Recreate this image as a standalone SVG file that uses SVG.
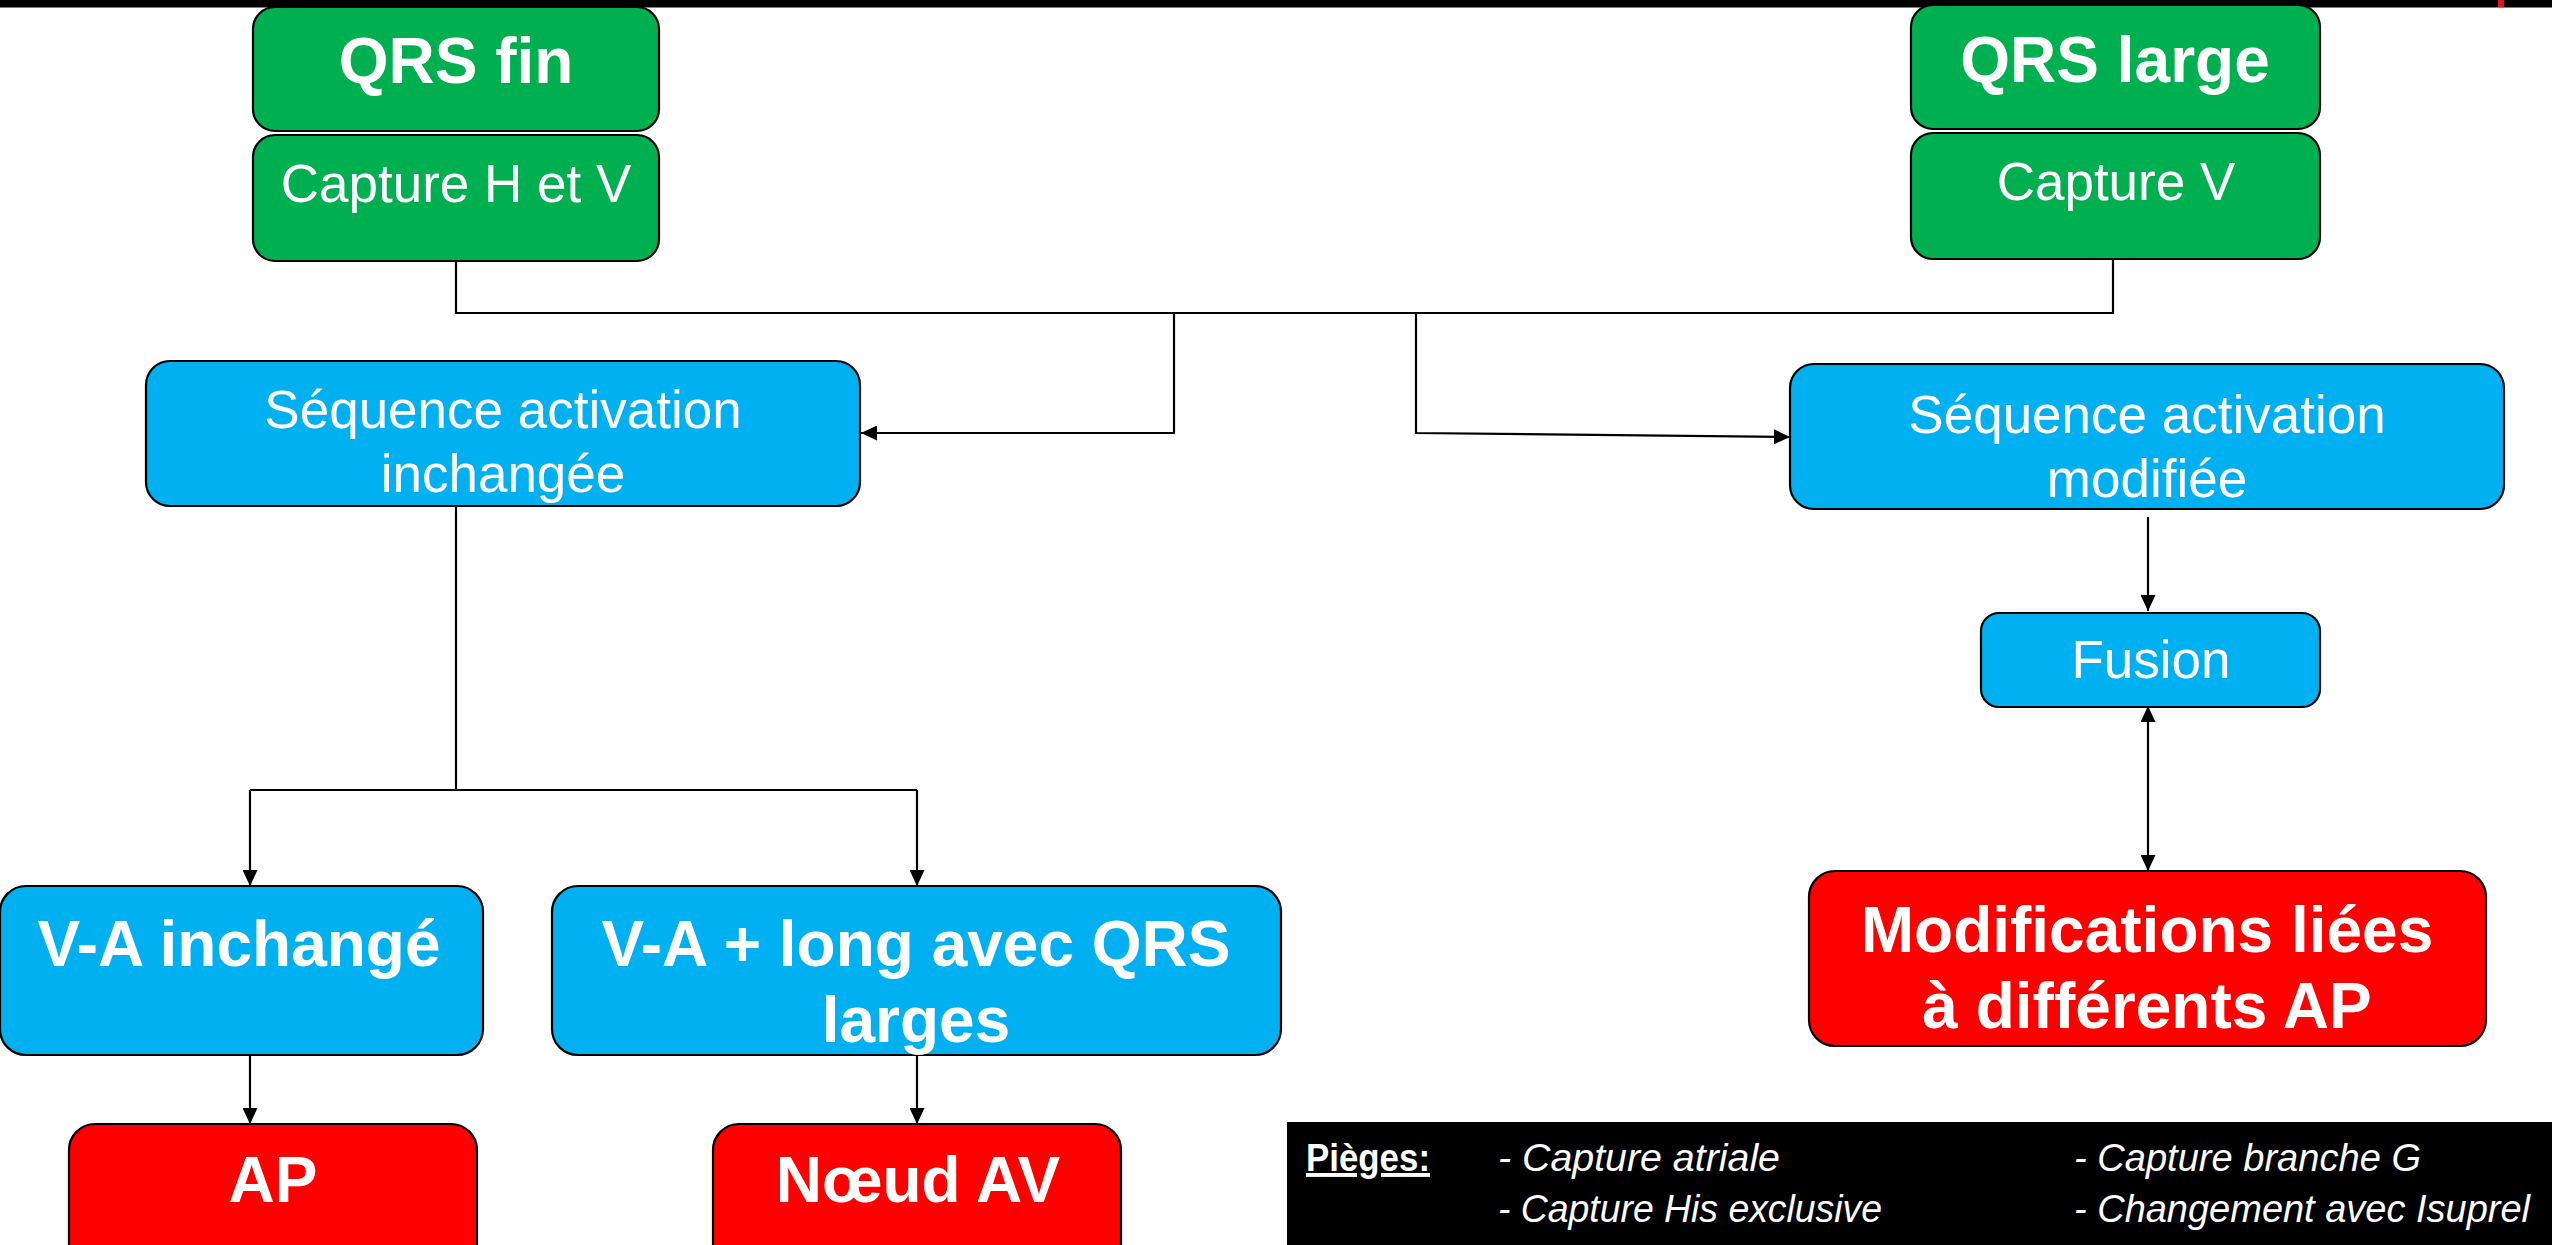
<svg xmlns="http://www.w3.org/2000/svg" width="2552" height="1245" viewBox="0 0 2552 1245">
<style>
.box{stroke:#000;stroke-width:2.2}
.g{fill:#00B050}.b{fill:#00B0F0}.r{fill:#FF0000}
text{font-family:"Liberation Sans",Arial,sans-serif;fill:#fff;text-anchor:middle}
.big{font-size:64px;font-weight:bold}
.reg{font-size:53px}
.pg{font-size:39px;text-anchor:start}
.it{font-style:italic}
.conn{fill:none;stroke:#000;stroke-width:2.2}
</style>
<defs>
<marker id="ah" viewBox="0 0 16 15" refX="16" refY="7.5" markerWidth="16" markerHeight="15" markerUnits="userSpaceOnUse" orient="auto-start-reverse">
<path d="M0,0 L16,7.5 L0,15 Z" fill="#000"/>
</marker>
</defs>
<rect x="0" y="0" width="2552" height="1245" fill="#fff"/>
<rect x="0" y="0" width="2552" height="7.5" fill="#000"/>
<rect x="2498" y="0" width="6" height="7" fill="#E0161E"/>

<g id="connectors">
<polyline class="conn" points="456,261 456,313 2113,313 2113,259"/>
<polyline class="conn" points="1174,313 1174,433 861,433" marker-end="url(#ah)"/>
<polyline class="conn" points="1416,313 1416,433 1790,437" marker-end="url(#ah)"/>
<polyline class="conn" points="456,506 456,790"/>
<polyline class="conn" points="250,790 917,790"/>
<line class="conn" x1="250" y1="790" x2="250" y2="886" marker-end="url(#ah)"/>
<line class="conn" x1="917" y1="790" x2="917" y2="886" marker-end="url(#ah)"/>
<line class="conn" x1="250" y1="1055" x2="250" y2="1124" marker-end="url(#ah)"/>
<line class="conn" x1="917" y1="1055" x2="917" y2="1124" marker-end="url(#ah)"/>
<line class="conn" x1="2148" y1="517" x2="2148" y2="611" marker-end="url(#ah)"/>
</g>

<g id="qrs-fin"><rect class="box g" x="253" y="7" width="406" height="124" rx="22"/><text class="big" x="456" y="83">QRS fin</text></g>
<g id="capture-hv"><rect class="box g" x="253" y="135" width="406" height="126" rx="22"/><text class="reg" x="456" y="202">Capture H et V</text></g>
<g id="qrs-large"><rect class="box g" x="1911" y="5" width="409" height="124" rx="22"/><text class="big" x="2115" y="82">QRS large</text></g>
<g id="capture-v"><rect class="box g" x="1911" y="133" width="409" height="126" rx="22"/><text class="reg" x="2116" y="200">Capture V</text></g>
<g id="seq-inchangee"><rect class="box b" x="146" y="361" width="714" height="145" rx="24"/><text class="reg" x="503" y="428">Séquence activation</text><text class="reg" x="503" y="492">inchangée</text></g>
<g id="seq-modifiee"><rect class="box b" x="1790" y="364" width="714" height="145" rx="24"/><text class="reg" x="2147" y="433">Séquence activation</text><text class="reg" x="2147" y="497">modifiée</text></g>
<g id="fusion"><rect class="box b" x="1981" y="613" width="339" height="94" rx="18"/><text class="reg" x="2151" y="678">Fusion</text></g>
<g id="modifications"><rect class="box r" x="1809" y="871" width="677" height="175" rx="26"/><text class="big" x="2147" y="952">Modifications liées</text><text class="big" x="2147" y="1028">à différents AP</text></g>
<g id="va-inchange"><rect class="box b" x="0" y="886" width="483" height="169" rx="26"/><text class="big" x="239" y="966">V-A inchangé</text></g>
<g id="va-long"><rect class="box b" x="552" y="886" width="729" height="169" rx="26"/><text class="big" x="916" y="966">V-A + long avec QRS</text><text class="big" x="916" y="1042">larges</text></g>
<g id="ap"><rect class="box r" x="69" y="1124" width="408" height="170" rx="26"/><text class="big" x="273" y="1202">AP</text></g>
<g id="noeud-av"><rect class="box r" x="713" y="1124" width="408" height="170" rx="26"/><text class="big" x="918" y="1202">Nœud AV</text></g>

<line class="conn" x1="2148" y1="706" x2="2148" y2="871" marker-start="url(#ah)" marker-end="url(#ah)"/>

<g id="pieges">
<rect x="1287" y="1122" width="1265" height="123" fill="#000"/>
<text class="pg" x="1306" y="1171" font-weight="bold" text-decoration="underline" textLength="124" lengthAdjust="spacingAndGlyphs">Pièges:</text>
<text class="pg it" x="1498" y="1171" textLength="282" lengthAdjust="spacingAndGlyphs">- Capture atriale</text>
<text class="pg it" x="1498" y="1222" textLength="384" lengthAdjust="spacingAndGlyphs">- Capture His exclusive</text>
<text class="pg it" x="2074" y="1171" textLength="347" lengthAdjust="spacingAndGlyphs">- Capture branche G</text>
<text class="pg it" x="2074" y="1222" textLength="456" lengthAdjust="spacingAndGlyphs">- Changement avec Isuprel</text>
</g>
</svg>
